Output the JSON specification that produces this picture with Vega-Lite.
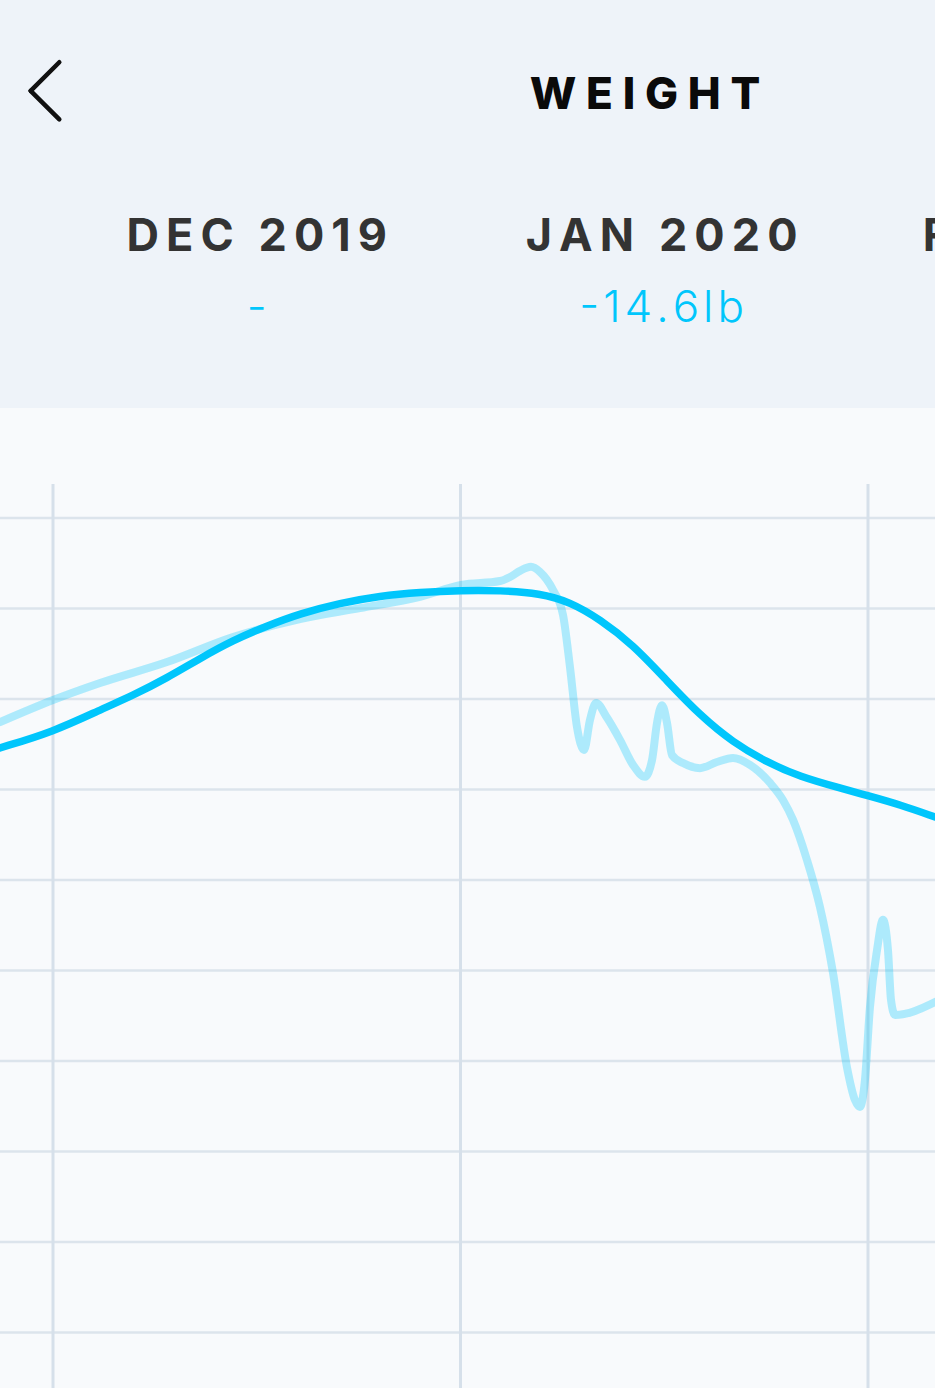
{
  "$schema": "https://vega.github.io/schema/vega-lite/v6.json",
  "width": 935,
  "height": 1388,
  "padding": 0,
  "autosize": {"type": "fit", "contains": "padding"},
  "background": "#F8FAFC",
  "config": {"view": {"stroke": null}},
  "data": {
    "values": [
      {"series": "header", "w": 214.309, "w2": 203.04},
      {"series": "hgrid", "w": 200}, {"series": "hgrid", "w": 197.5}, {"series": "hgrid", "w": 195},
      {"series": "hgrid", "w": 192.5}, {"series": "hgrid", "w": 190}, {"series": "hgrid", "w": 187.5},
      {"series": "hgrid", "w": 185}, {"series": "hgrid", "w": 182.5}, {"series": "hgrid", "w": 180},
      {"series": "hgrid", "w": 177.5},
      {"series": "vgrid", "d": 0, "w": 200.94, "w2": 175.967},
      {"series": "vgrid", "d": 31, "w": 200.94, "w2": 175.967},
      {"series": "vgrid", "d": 62, "w": 200.94, "w2": 175.967},
      {"series": "trend", "d": -4.03, "w": 193.65}, {"series": "trend", "d": 0, "w": 194.09},
      {"series": "trend", "d": 3.58, "w": 194.70}, {"series": "trend", "d": 6.09, "w": 195.10},
      {"series": "trend", "d": 8.67, "w": 195.58}, {"series": "trend", "d": 11.18, "w": 196.12},
      {"series": "trend", "d": 13.69, "w": 196.62}, {"series": "trend", "d": 16.28, "w": 197.02},
      {"series": "trend", "d": 18.79, "w": 197.36}, {"series": "trend", "d": 21.83, "w": 197.65},
      {"series": "trend", "d": 24.88, "w": 197.85}, {"series": "trend", "d": 27.92, "w": 197.95},
      {"series": "trend", "d": 31.04, "w": 198.0}, {"series": "trend", "d": 34.01, "w": 198.0},
      {"series": "trend", "d": 37.05, "w": 197.92}, {"series": "trend", "d": 39.33, "w": 197.68},
      {"series": "trend", "d": 41.61, "w": 197.20}, {"series": "trend", "d": 44.12, "w": 196.50},
      {"series": "trend", "d": 46.71, "w": 195.50}, {"series": "trend", "d": 49.22, "w": 194.55},
      {"series": "trend", "d": 51.73, "w": 193.80}, {"series": "trend", "d": 54.32, "w": 193.25},
      {"series": "trend", "d": 56.83, "w": 192.85}, {"series": "trend", "d": 59.87, "w": 192.54},
      {"series": "trend", "d": 62.0, "w": 192.33}, {"series": "trend", "d": 64.44, "w": 192.08},
      {"series": "trend", "d": 67.1, "w": 191.74},
      {"series": "raw", "d": -4.03, "w": 194.36}, {"series": "raw", "d": 0, "w": 194.97},
      {"series": "raw", "d": 3.58, "w": 195.44}, {"series": "raw", "d": 8.67, "w": 196.02},
      {"series": "raw", "d": 13.69, "w": 196.71}, {"series": "raw", "d": 18.79, "w": 197.21},
      {"series": "raw", "d": 23.35, "w": 197.51}, {"series": "raw", "d": 27.92, "w": 197.82},
      {"series": "raw", "d": 31.04, "w": 198.15}, {"series": "raw", "d": 34.01, "w": 198.26},
      {"series": "raw", "d": 34.77, "w": 198.37}, {"series": "raw", "d": 35.53, "w": 198.54},
      {"series": "raw", "d": 36.36, "w": 198.65}, {"series": "raw", "d": 37.05, "w": 198.51},
      {"series": "raw", "d": 38.04, "w": 198.01}, {"series": "raw", "d": 38.8, "w": 197.32},
      {"series": "raw", "d": 39.33, "w": 195.88}, {"series": "raw", "d": 39.86, "w": 194.23},
      {"series": "raw", "d": 40.4, "w": 193.59}, {"series": "raw", "d": 40.85, "w": 194.42},
      {"series": "raw", "d": 41.31, "w": 194.89}, {"series": "raw", "d": 42.15, "w": 194.48},
      {"series": "raw", "d": 43.13, "w": 193.87}, {"series": "raw", "d": 44.12, "w": 193.18},
      {"series": "raw", "d": 45.03, "w": 192.85}, {"series": "raw", "d": 45.57, "w": 193.31},
      {"series": "raw", "d": 45.95, "w": 194.34}, {"series": "raw", "d": 46.33, "w": 194.83},
      {"series": "raw", "d": 46.71, "w": 194.34}, {"series": "raw", "d": 47.09, "w": 193.45},
      {"series": "raw", "d": 47.93, "w": 193.23}, {"series": "raw", "d": 49.22, "w": 193.09},
      {"series": "raw", "d": 50.51, "w": 193.26}, {"series": "raw", "d": 51.73, "w": 193.37},
      {"series": "raw", "d": 53.02, "w": 193.18}, {"series": "raw", "d": 54.55, "w": 192.68},
      {"series": "raw", "d": 55.53, "w": 192.21}, {"series": "raw", "d": 56.3, "w": 191.66},
      {"series": "raw", "d": 57.36, "w": 190.55}, {"series": "raw", "d": 58.35, "w": 189.25},
      {"series": "raw", "d": 59.34, "w": 187.43}, {"series": "raw", "d": 60.4, "w": 184.83},
      {"series": "raw", "d": 61.01, "w": 183.92}, {"series": "raw", "d": 61.39, "w": 183.73},
      {"series": "raw", "d": 61.77, "w": 184.48}, {"series": "raw", "d": 62.15, "w": 186.49},
      {"series": "raw", "d": 62.69, "w": 188.07}, {"series": "raw", "d": 63.14, "w": 188.90},
      {"series": "raw", "d": 63.52, "w": 188.07}, {"series": "raw", "d": 63.75, "w": 186.69},
      {"series": "raw", "d": 64.05, "w": 186.27}, {"series": "raw", "d": 67.1, "w": 186.63},
      {"series": "back", "d": 0.48, "w": 212.59, "d2": -1.70, "w2": 211.80},
      {"series": "back", "d": -1.70, "w": 211.80, "d2": 0.48, "w2": 211.01},
      {"series": "title", "d": 45.04, "w": 211.31, "label": "W\u2009\u200aE\u2009\u200aI\u2009\u200aG\u2009\u200aH\u2009\u200aT"},
      {"series": "month", "d": 15.5, "w": 207.38, "wc": 205.41, "label": "D\u2009E\u2009C\u2009 \u20092\u20090\u20091\u20099", "change": "-"},
      {"series": "month", "d": 46.3, "w": 207.38, "wc": 205.41, "label": "J\u2009A\u2009N\u2009 \u20092\u20090\u20092\u20090", "change": "-\u200a1\u200a4\u200a.\u200a6\u200al\u200ab"},
      {"series": "month", "d": 76.1, "w": 207.38, "wc": 205.41, "label": "F\u2009E\u2009B\u2009 \u20092\u20090\u20092\u20090", "change": " "}
    ]
  },
  "layer": [
    {
      "transform": [{"filter": "datum.series == 'header'"}],
      "mark": {"type": "rect", "color": "#EEF3F9", "clip": true},
      "encoding": {
        "y": {"field": "w", "type": "quantitative", "scale": {"domain": [175.967, 214.309], "nice": false, "zero": false}, "axis": null},
        "y2": {"field": "w2"}
      }
    },
    {
      "transform": [{"filter": "datum.series == 'hgrid'"}],
      "mark": {"type": "rule", "color": "#DCE4EC", "strokeWidth": 2.4, "clip": true},
      "encoding": {
        "y": {"field": "w", "type": "quantitative", "scale": {"domain": [175.967, 214.309], "nice": false, "zero": false}, "axis": null}
      }
    },
    {
      "transform": [{"filter": "datum.series == 'vgrid'"}],
      "mark": {"type": "rule", "color": "#D6E0EA", "strokeWidth": 3, "clip": true},
      "encoding": {
        "x": {"field": "d", "type": "quantitative", "scale": {"domain": [-4.032, 67.098], "nice": false, "zero": false}, "axis": null},
        "y": {"field": "w", "type": "quantitative", "scale": {"domain": [175.967, 214.309], "nice": false, "zero": false}, "axis": null},
        "y2": {"field": "w2"}
      }
    },
    {
      "transform": [{"filter": "datum.series == 'raw'"}],
      "mark": {"type": "line", "color": "#00C6FC", "opacity": 0.3, "strokeWidth": 8, "interpolate": "monotone", "strokeCap": "round", "strokeJoin": "round", "clip": true},
      "encoding": {
        "x": {"field": "d", "type": "quantitative", "scale": {"domain": [-4.032, 67.098], "nice": false, "zero": false}, "axis": null},
        "y": {"field": "w", "type": "quantitative", "scale": {"domain": [175.967, 214.309], "nice": false, "zero": false}, "axis": null}
      }
    },
    {
      "transform": [{"filter": "datum.series == 'trend'"}],
      "mark": {"type": "line", "color": "#00C6FC", "strokeWidth": 7.5, "interpolate": "basis", "strokeCap": "round", "clip": true},
      "encoding": {
        "x": {"field": "d", "type": "quantitative", "scale": {"domain": [-4.032, 67.098], "nice": false, "zero": false}, "axis": null},
        "y": {"field": "w", "type": "quantitative", "scale": {"domain": [175.967, 214.309], "nice": false, "zero": false}, "axis": null}
      }
    },
    {
      "transform": [{"filter": "datum.series == 'back'"}],
      "mark": {"type": "rule", "color": "#111111", "strokeWidth": 4.5, "strokeCap": "round", "clip": true},
      "encoding": {
        "x": {"field": "d", "type": "quantitative", "scale": {"domain": [-4.032, 67.098], "nice": false, "zero": false}, "axis": null},
        "y": {"field": "w", "type": "quantitative", "scale": {"domain": [175.967, 214.309], "nice": false, "zero": false}, "axis": null},
        "x2": {"field": "d2"},
        "y2": {"field": "w2"}
      }
    },
    {
      "transform": [{"filter": "datum.series == 'title'"}],
      "mark": {"type": "text", "font": "Inter", "fontWeight": 800, "fontSize": 44, "color": "#0A0A0A", "align": "center", "baseline": "alphabetic", "clip": true},
      "encoding": {
        "text": {"field": "label", "type": "nominal"},
        "x": {"field": "d", "type": "quantitative", "scale": {"domain": [-4.032, 67.098], "nice": false, "zero": false}, "axis": null},
        "y": {"field": "w", "type": "quantitative", "scale": {"domain": [175.967, 214.309], "nice": false, "zero": false}, "axis": null}
      }
    },
    {
      "transform": [{"filter": "datum.series == 'month'"}],
      "mark": {"type": "text", "font": "Inter", "fontWeight": 700, "fontSize": 45, "color": "#333333", "align": "center", "baseline": "alphabetic", "clip": true},
      "encoding": {
        "text": {"field": "label", "type": "nominal"},
        "x": {"field": "d", "type": "quantitative", "scale": {"domain": [-4.032, 67.098], "nice": false, "zero": false}, "axis": null},
        "y": {"field": "w", "type": "quantitative", "scale": {"domain": [175.967, 214.309], "nice": false, "zero": false}, "axis": null}
      }
    },
    {
      "transform": [{"filter": "datum.series == 'month'"}],
      "mark": {"type": "text", "font": "Inter", "fontWeight": 300, "fontSize": 44, "color": "#00C6FC", "align": "center", "baseline": "alphabetic", "clip": true},
      "encoding": {
        "text": {"field": "change", "type": "nominal"},
        "x": {"field": "d", "type": "quantitative", "scale": {"domain": [-4.032, 67.098], "nice": false, "zero": false}, "axis": null},
        "y": {"field": "wc", "type": "quantitative", "scale": {"domain": [175.967, 214.309], "nice": false, "zero": false}, "axis": null}
      }
    }
  ]
}
